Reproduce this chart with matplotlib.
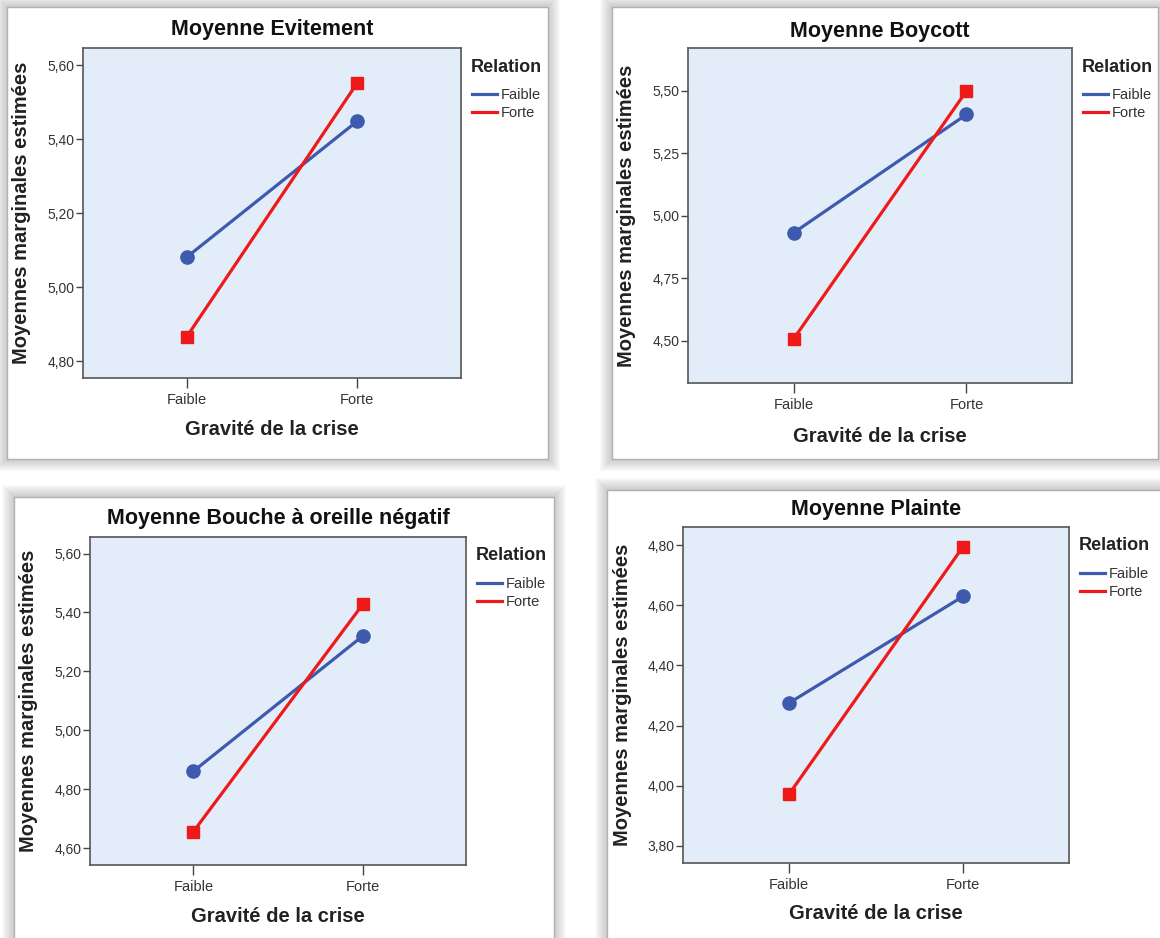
import matplotlib
matplotlib.use("Agg")
import matplotlib.pyplot as plt
from matplotlib.lines import Line2D
from matplotlib.patches import Rectangle
from matplotlib.ticker import FuncFormatter

plt.rcParams['font.family'] = ['Liberation Sans', 'DejaVu Sans']

W, H = 1160, 938

# data
categories = ["Faible", "Forte"]
titles = ["Moyenne Evitement", "Moyenne Boycott",
          "Moyenne Bouche à oreille négatif", "Moyenne Plainte"]
faible_vals = [[5.082, 5.449], [4.932, 5.406], [4.861, 5.320], [4.275, 4.629]]
forte_vals = [[4.867, 5.552], [4.507, 5.500], [4.656, 5.427], [3.972, 4.794]]
yticks = [[4.80, 5.00, 5.20, 5.40, 5.60],
          [4.50, 4.75, 5.00, 5.25, 5.50],
          [4.60, 4.80, 5.00, 5.20, 5.40, 5.60],
          [3.80, 4.00, 4.20, 4.40, 4.60, 4.80]]
ylims = [(4.755, 5.647), (4.331, 5.672), (4.543, 5.656), (3.743, 4.860)]

# layout in pixels: axes box (left, top, right, bottom), card box, title y, xlabel y
axes_px = [(83, 48, 461, 378), (688, 48, 1072, 383),
           (90, 537, 466, 865), (683, 527, 1069, 863)]
cards_px = [(7, 7, 548, 459), (612, 7, 1158, 459),
            (14, 497, 554, 942), (607, 490, 1164, 942)]
title_y = [30, 31, 518, 509]
xlabel_y = [429, 436, 916, 913]

blue = "#3d5aae"
red = "#ee1a1a"
face = "#e3edf9"


def fx(x):
    return x / W


def fy(y):
    return 1 - y / H


fig = plt.figure(figsize=(W / 100, H / 100), dpi=100)
fig.patch.set_facecolor("white")

# cards with a soft grey shadow
for (x0, y0, x1, y1) in cards_px:
    for i in range(12, 0, -1):
        fig.patches.append(Rectangle((fx(x0 - i), fy(y1 + i)), (x1 - x0 + 2 * i) / W,
                                     (y1 - y0 + 2 * i) / H, transform=fig.transFigure,
                                     facecolor="#808080", edgecolor="none",
                                     alpha=0.035, zorder=-2))
    fig.patches.append(Rectangle((fx(x0), fy(y1)), (x1 - x0) / W, (y1 - y0) / H,
                                 transform=fig.transFigure, facecolor="white",
                                 edgecolor="#b0b0b0", lw=1, zorder=-1))

fmt = FuncFormatter(lambda v, p: f"{v:.2f}".replace(".", ","))
xpos = [0, 1]

for k in range(4):
    l, t, r, b = axes_px[k]
    ax = fig.add_axes([fx(l), fy(b), (r - l) / W, (b - t) / H])
    ax.set_facecolor(face)
    ax.plot(xpos, faible_vals[k], color=blue, lw=2.3, marker="o", ms=9.5,
            solid_capstyle="butt")
    ax.plot(xpos, forte_vals[k], color=red, lw=2.3, marker="s", ms=8.5,
            solid_capstyle="butt")
    ax.set_xlim(-0.61, 1.61)
    ax.set_ylim(*ylims[k])
    ax.set_xticks(xpos)
    ax.set_xticklabels(categories)
    ax.set_yticks(yticks[k])
    ax.yaxis.set_major_formatter(fmt)
    for s in ax.spines.values():
        s.set_color("#555555")
        s.set_linewidth(1.2)
    ax.tick_params(axis="y", direction="out", length=5, width=1, color="#444444",
                   labelsize=10, labelcolor="#333333", pad=1)
    ax.tick_params(axis="x", direction="out", length=7, width=1, color="#444444",
                   labelsize=10.5, labelcolor="#333333", pad=4)

    fig.text(fx((l + r) / 2), fy(title_y[k]), titles[k], ha="center", va="center",
             fontsize=15.5, fontweight="bold", color="#111111")
    fig.text(fx((l + r) / 2), fy(xlabel_y[k]), "Gravité de la crise", ha="center",
             va="center", fontsize=14.5, fontweight="bold", color="#222222")
    fig.text(fx(l - 61), fy((t + b) / 2), "Moyennes marginales estimées",
             rotation=90, ha="center", va="center", fontsize=14.5,
             fontweight="bold", color="#222222")

    # legend: title as text, entries as a legend
    fig.text(fx(r + 10), fy(t + 19), "Relation", ha="left", va="center",
             fontsize=13, fontweight="bold", color="#222222")
    handles = [Line2D([], [], color=blue, lw=2.3), Line2D([], [], color=red, lw=2.3)]
    leg = ax.legend(handles, categories, loc="upper left",
                    bbox_to_anchor=(fx(r + 11), fy(t + 40)),
                    bbox_transform=fig.transFigure, frameon=False, fontsize=10.5,
                    handlelength=1.7, handletextpad=0.27, labelspacing=0.29,
                    borderpad=0, borderaxespad=0)
    for txt in leg.get_texts():
        txt.set_color("#333333")

fig.savefig("out.png", dpi=100, facecolor="white")
